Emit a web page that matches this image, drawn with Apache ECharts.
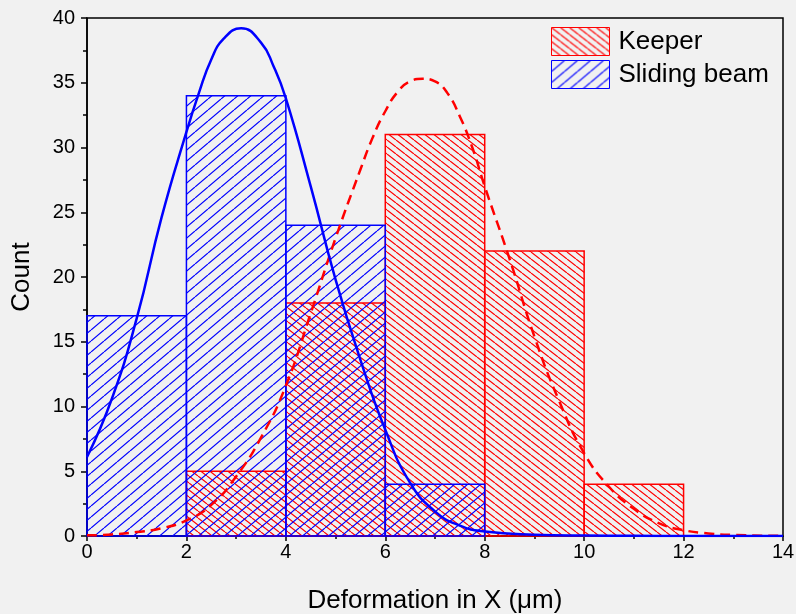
<!DOCTYPE html>
<html>
<head>
<meta charset="utf-8">
<script src="https://cdn.jsdelivr.net/npm/echarts@6/dist/echarts.min.js"></script>
<style>
html, body { margin: 0; padding: 0; background: #f1f1f1; }
#main { width: 796px; height: 614px; }
</style>
</head>
<body>
<div id="main"></div>
<script>
// histogram bins (left edge) and counts
var binWidth = 2;
var keeperBins = [2, 4, 6, 8, 10];
var keeperCounts = [5, 18, 31, 22, 4];
var slidingBins = [0, 2, 4, 6];
var slidingCounts = [17, 34, 24, 4];

// fitted curves
var slidingFitX = [0, 0.5, 1, 1.5, 2, 2.25, 2.5, 2.75, 3.1, 3.5, 3.75, 4, 4.5, 5, 5.5, 6, 6.5, 7, 7.5, 8, 9, 10, 11, 12, 13, 14];
var slidingFitY = [6.1, 10.6, 16.8, 24.6, 31.2, 34.2, 36.8, 38.4, 39.2, 38.1, 36.3, 33.8, 27.0, 19.8, 13.6, 8.2, 4.1, 1.9, 0.8, 0.35, 0.1, 0.03, 0.01, 0, 0, 0];
var keeperFitX = [0, 0.5, 1, 1.5, 2, 2.5, 3, 3.5, 4, 4.5, 5, 5.5, 5.75, 6, 6.25, 6.5, 6.75, 7, 7.25, 7.5, 7.75, 8, 8.5, 9, 9.5, 10, 10.5, 11, 11.5, 12, 12.5, 13, 14];
var keeperFitY = [0.05, 0.12, 0.3, 0.6, 1.2, 2.4, 4.6, 7.6, 11.6, 17.2, 23.0, 28.3, 30.8, 32.8, 34.3, 35.1, 35.3, 35.1, 34.2, 32.4, 30.0, 27.0, 21.4, 15.4, 10.4, 6.4, 3.8, 2.1, 1.0, 0.45, 0.2, 0.08, 0.01];

var FONT = 'Liberation Sans, Arial, sans-serif';

function hatch(color, w, h, up) {
    var c = document.createElement('canvas');
    c.width = w;
    c.height = h;
    var ctx = c.getContext('2d');
    ctx.strokeStyle = color;
    ctx.lineWidth = 1.2;
    ctx.beginPath();
    for (var k = -1; k <= 1; k++) {
        if (up) {
            ctx.moveTo(k * w, h);
            ctx.lineTo(k * w + w, 0);
        } else {
            ctx.moveTo(k * w, 0);
            ctx.lineTo(k * w + w, h);
        }
    }
    ctx.stroke();
    return { image: c, repeat: 'repeat' };
}

var redHatch = hatch('#ff0000', 9, 7, false);
var blueHatch = hatch('#0000ff', 13, 11, true);

function toBars(bins, counts) {
    return bins.map(function (b, i) { return [b, b + binWidth, counts[i]]; });
}
function toLine(xs, ys) {
    return xs.map(function (x, i) { return [x, ys[i]]; });
}

function barRenderer(fill, stroke) {
    return function (params, api) {
        var p0 = api.coord([api.value(0), api.value(2)]);
        var p1 = api.coord([api.value(1), 0]);
        return {
            type: 'rect',
            shape: { x: p0[0], y: p0[1], width: p1[0] - p0[0], height: p1[1] - p0[1] },
            style: { fill: fill, stroke: stroke, lineWidth: 1.5 }
        };
    };
}

var myChart = echarts.init(document.getElementById('main'));

var option = {
    backgroundColor: '#f1f1f1',
    animation: false,
    grid: {
        left: 87,
        right: 13,
        top: 18,
        bottom: 78,
        outerBoundsMode: 'none',
        show: true,
        borderColor: '#000',
        borderWidth: 1.5,
        backgroundColor: 'transparent'
    },
    legend: {
        orient: 'vertical',
        left: 551,
        top: 27,
        padding: 0,
        itemWidth: 58,
        itemHeight: 28,
        itemGap: 4,
        selectedMode: false,
        textStyle: { fontFamily: FONT, fontSize: 26, color: '#000', padding: [4, 0, 0, 4] },
        data: [
            { name: 'Keeper', icon: 'rect', itemStyle: { color: redHatch, borderColor: '#ff0000', borderWidth: 1 } },
            { name: 'Sliding beam', icon: 'rect', itemStyle: { color: blueHatch, borderColor: '#0000ff', borderWidth: 1 } }
        ]
    },
    xAxis: {
        type: 'value',
        min: 0,
        max: 14,
        interval: 2,
        name: 'Deformation in X (\u03bcm)',
        nameLocation: 'middle',
        nameGap: 52,
        nameTextStyle: { fontFamily: FONT, fontSize: 26, color: '#000' },
        axisLine: { show: true, onZero: false, lineStyle: { color: '#000', width: 1.5 } },
        axisTick: { show: true, inside: false, length: 5, lineStyle: { color: '#000', width: 1.5 } },
        minorTick: { show: true, splitNumber: 2, length: 3, lineStyle: { color: '#000', width: 1.5 } },
        axisLabel: { fontFamily: FONT, fontSize: 20, color: '#000', margin: 6 },
        splitLine: { show: false }
    },
    yAxis: {
        type: 'value',
        min: 0,
        max: 40,
        interval: 5,
        name: 'Count',
        nameLocation: 'middle',
        nameGap: 52,
        nameTextStyle: { fontFamily: FONT, fontSize: 26, color: '#000' },
        axisLine: { show: true, lineStyle: { color: '#000', width: 1.5 } },
        axisTick: { show: true, inside: false, length: 6, lineStyle: { color: '#000', width: 1.5 } },
        minorTick: { show: true, splitNumber: 2, length: 4, lineStyle: { color: '#000', width: 1.5 } },
        axisLabel: { fontFamily: FONT, fontSize: 20, color: '#000', margin: 12 },
        splitLine: { show: false }
    },
    series: [
        {
            name: 'Keeper',
            type: 'custom',
            renderItem: barRenderer(redHatch, '#ff0000'),
            itemStyle: { color: redHatch, borderColor: '#ff0000', borderWidth: 1 },
            encode: { x: [0, 1], y: 2 },
            data: toBars(keeperBins, keeperCounts)
        },
        {
            name: 'Sliding beam',
            type: 'custom',
            renderItem: barRenderer(blueHatch, '#0000ff'),
            itemStyle: { color: blueHatch, borderColor: '#0000ff', borderWidth: 1 },
            encode: { x: [0, 1], y: 2 },
            data: toBars(slidingBins, slidingCounts)
        },
        {
            name: 'Keeper fit',
            type: 'line',
            smooth: 0.5,
            showSymbol: false,
            lineStyle: { color: '#ff0000', width: 2.5, type: [10, 6] },
            data: toLine(keeperFitX, keeperFitY)
        },
        {
            name: 'Sliding beam fit',
            type: 'line',
            smooth: 0.5,
            showSymbol: false,
            lineStyle: { color: '#0000ff', width: 2.5 },
            data: toLine(slidingFitX, slidingFitY)
        }
    ]
};

myChart.setOption(option);
</script>
</body>
</html>
